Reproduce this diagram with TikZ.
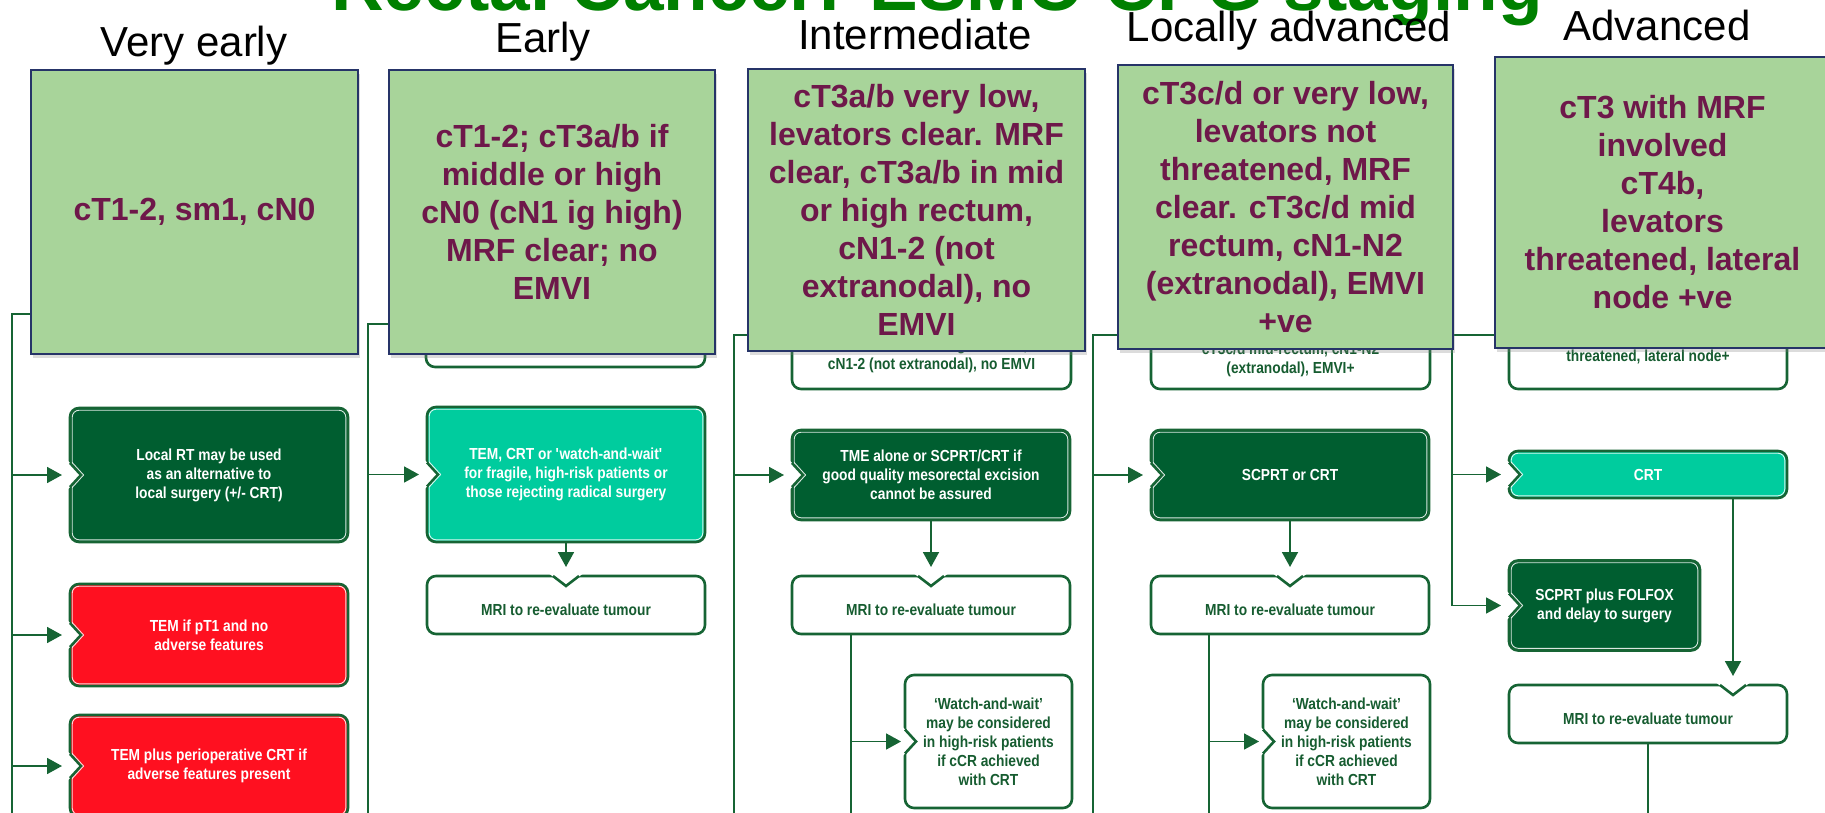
\documentclass[tikz,border=0pt]{standalone}
\usepackage{fontspec}
\setmainfont{Liberation Sans}
\newfontfamily\condf{Liberation Sans}[FakeStretch=0.86]
\usetikzlibrary{arrows.meta,shadows,calc}

\definecolor{stagefill}{RGB}{168,212,154}
\definecolor{stageedge}{RGB}{38,52,104}
\definecolor{stagetext}{RGB}{110,24,74}
\definecolor{titlegreen}{RGB}{0,128,0}
\definecolor{lineg}{RGB}{22,100,52}
\definecolor{darkg}{RGB}{0,94,48}
\definecolor{redbox}{RGB}{255,16,32}
\definecolor{tealbox}{RGB}{0,204,158}
\definecolor{wtext}{RGB}{22,92,48}

\pgfdeclarelayer{bg}
\pgfsetlayers{bg,main}

\tikzset{
  conn/.style={draw=lineg, line width=1.8pt},
  arr/.style={conn, -{Triangle[length=15pt,width=16pt]}},
  stage/.style={draw=stageedge, line width=1.6pt, fill=stagefill, text=stagetext,
    font=\bfseries\fontsize{32}{38}\selectfont, align=center, inner sep=0pt, outer sep=0pt,
    drop shadow={shadow xshift=2pt, shadow yshift=-4pt, opacity=0.28}},
  flow/.style={draw=lineg, line width=2.6pt, rounded corners=9pt, inner sep=0pt, outer sep=0pt,
    align=center, font=\condf\bfseries\fontsize{16}{19}\selectfont},
  darkbox/.style={flow, fill=darkg, text=white},
  redb/.style={flow, fill=redbox, text=white},
  tealb/.style={flow, fill=tealbox, text=white},
  whiteb/.style={flow, fill=white, text=wtext},
  wlabel/.style={align=center, text=wtext, inner sep=0pt, font=\condf\bfseries\fontsize{16}{19}\selectfont},
  hdr/.style={font=\fontsize{42}{46}\selectfont, anchor=base, inner sep=0pt},
}

% thin light line just inside the border of a filled box
\newcommand\innerline[1]{%
  \draw[white, opacity=0.85, line width=0.9pt, rounded corners=7pt]
    ([shift={(2.2,2.2)}]#1.north west) rectangle ([shift={(-2.2,-2.2)}]#1.south east);}
% chevron cut into the left side of a box at height #2
\newcommand\lnotch[2]{%
  \fill[white] ($(#1.west |- 0,#2)+(-2.5,-14.7)$) -- ($(#1.west |- 0,#2)+(11,0)$)
    -- ($(#1.west |- 0,#2)+(-2.5,14.7)$) -- cycle;
  \draw[lineg, line width=2.6pt, line join=miter] ($(#1.west |- 0,#2)+(0,-12)$)
    -- ($(#1.west |- 0,#2)+(11,0)$) -- ($(#1.west |- 0,#2)+(0,12)$);}
\newcommand\lnotchin[2]{%
  \draw[white, opacity=0.85, line width=0.9pt] ($(#1.west |- 0,#2)+(2.2,-12.5)$)
    -- ($(#1.west |- 0,#2)+(13.6,0)$) -- ($(#1.west |- 0,#2)+(2.2,12.5)$);}
% chevron cut into the top side of a box at abscissa #2
\newcommand\tnotch[2]{%
  \fill[white] ($(#1.north -| #2,0)+(-17.2,-2.5)$) -- ($(#1.north -| #2,0)+(0,10)$)
    -- ($(#1.north -| #2,0)+(17.2,-2.5)$) -- cycle;
  \draw[lineg, line width=2.6pt, line join=miter] ($(#1.north -| #2,0)+(-13,0)$)
    -- ($(#1.north -| #2,0)+(0,10)$) -- ($(#1.north -| #2,0)+(13,0)$);}

\begin{document}
\begin{tikzpicture}[x=1pt,y=-1pt]
\useasboundingbox (0,0) rectangle (1825,813);
\clip (0,0) rectangle (1825,813);

% title and column headings
\node[font=\bfseries\fontsize{73}{80}\selectfont, text=titlegreen, anchor=base, inner sep=0pt]
  (title) at (937,11) {Rectal Cancer: ESMO CPG staging};
\node[hdr] (hd1) at (194,57) {Very early};
\node[hdr] (hd2) at (543,53) {Early};
\node[hdr] (hd3) at (915,50) {Intermediate};
\node[hdr] (hd4) at (1289,42) {Locally advanced};
\node[hdr] (hd5) at (1657,41) {Advanced};

% stage boxes of the underlying flowchart
\node[whiteb, minimum width=279pt, minimum height=97pt] (h2) at (565.5,318.5) {};
\node[whiteb, minimum width=279pt, minimum height=97pt] (h3) at (931.5,340.5) {};
\node[wlabel] (h3t) at (931.5,355.5) {cT3a/b in mid or high rectum,\\cN1-2 (not extranodal), no EMVI};
\node[whiteb, minimum width=279pt, minimum height=97pt] (h4) at (1290.5,340.5) {};
\node[wlabel] (h4t) at (1290.5,359.5) {cT3c/d mid-rectum, cN1-N2\\(extranodal), EMVI+};
\node[whiteb, minimum width=278pt, minimum height=97pt] (h5) at (1648,340.5) {};
\node[wlabel] (h5t) at (1648,356.5) {threatened, lateral node+};

% very early
\node[darkbox, minimum width=278pt, minimum height=134pt] (l1) at (209,475)
  {Local RT may be used\\as an alternative to\\local surgery (+/- CRT)};
\node[redb, minimum width=278pt, minimum height=102pt] (r1) at (209,635)
  {TEM if pT1 and no\\adverse features};
\node[redb, minimum width=278pt, minimum height=102pt] (r2) at (209,766)
  {TEM plus perioperative CRT if\\adverse features present};
\innerline{l1}\innerline{r1}\innerline{r2}
\lnotch{l1}{475}\lnotchin{l1}{475}
\lnotch{r1}{635}\lnotchin{r1}{635}
\lnotch{r2}{766}\lnotchin{r2}{766}

% early
\node[tealb, minimum width=278pt, minimum height=135pt] (t2) at (566,474.5)
  {TEM, CRT or \textquotesingle watch-and-wait\textquotesingle\\for fragile, high-risk patients or\\those rejecting radical surgery};
\node[whiteb, minimum width=278pt, minimum height=58pt] (m2) at (566,605) {};
\node[wlabel] (m2t) at (566,610) {MRI to re-evaluate tumour};
\innerline{t2}
\lnotch{t2}{474.5}\lnotchin{t2}{474.5}
\tnotch{m2}{566}

% intermediate
\node[darkbox, minimum width=278pt, minimum height=90pt] (d3) at (931,475)
  {TME alone or SCPRT/CRT if\\good quality mesorectal excision\\cannot be assured};
\node[whiteb, minimum width=278pt, minimum height=58pt] (m3) at (931,605) {};
\node[wlabel] (m3t) at (931,610) {MRI to re-evaluate tumour};
\node[whiteb, minimum width=167pt, minimum height=133pt] (w3) at (988.5,741.5)
  {‘Watch-and-wait’\\may be considered\\in high-risk patients\\if cCR achieved\\with CRT};
\innerline{d3}
\lnotch{d3}{475}\lnotchin{d3}{475}
\tnotch{m3}{931}
\lnotch{w3}{741.5}

% locally advanced
\node[darkbox, minimum width=278pt, minimum height=90pt] (d4) at (1290,475) {SCPRT or CRT};
\node[whiteb, minimum width=278pt, minimum height=58pt] (m4) at (1290,605) {};
\node[wlabel] (m4t) at (1290,610) {MRI to re-evaluate tumour};
\node[whiteb, minimum width=167pt, minimum height=133pt] (w4) at (1346.5,741.5)
  {‘Watch-and-wait’\\may be considered\\in high-risk patients\\if cCR achieved\\with CRT};
\innerline{d4}
\lnotch{d4}{475}\lnotchin{d4}{475}
\tnotch{m4}{1290}
\lnotch{w4}{741.5}

% advanced
\node[tealb, minimum width=278pt, minimum height=47pt] (c5) at (1648,474.5) {CRT};
\node[darkbox, minimum width=191pt, minimum height=90pt] (f5) at (1604.5,605.5)
  {SCPRT plus FOLFOX\\and delay to surgery};
\node[whiteb, minimum width=278pt, minimum height=58pt] (m5) at (1648,714) {};
\node[wlabel] (m5t) at (1648,719) {MRI to re-evaluate tumour};
\innerline{c5}\innerline{f5}
\lnotch{c5}{474.5}\lnotchin{c5}{474.5}
\lnotch{f5}{605.5}\lnotchin{f5}{605.5}
\coordinate (n5) at (1733,676);
\tnotch{m5}{1733}

% staging criteria boxes laid over the chart
\node[stage, minimum width=327pt, minimum height=284pt] (s1) at (194.5,212) {cT1-2, sm1, cN0};
\node[stage, minimum width=326pt, minimum height=284pt] (s2) at (552,212)
  {cT1-2; cT3a/b if\\middle or high\\cN0 (cN1 ig high)\\MRF clear; no\\EMVI};
\node[stage, minimum width=337pt, minimum height=282pt] (s3) at (916.5,210)
  {cT3a/b very low,\\levators clear. MRF\\clear, cT3a/b in mid\\or high rectum,\\cN1-2 (not\\extranodal), no\\EMVI};
\node[stage, minimum width=335pt, minimum height=284pt] (s4) at (1285.5,207)
  {cT3c/d or very low,\\levators not\\threatened, MRF\\clear. cT3c/d mid\\rectum, cN1-N2\\(extranodal), EMVI\\+ve};
\node[stage, minimum width=335pt, minimum height=291pt] (s5) at (1662.5,202.5)
  {cT3 with MRF\\involved\\cT4b,\\levators\\threatened, lateral\\node +ve};

% connectors
\coordinate (v1) at (12,314);
\coordinate (v2) at (368,324);
\coordinate (v3) at (734,335);
\coordinate (v4) at (1093,335);
\coordinate (v5) at (1452,335);
\coordinate (bot) at (0,820);
\coordinate (b3) at (851,820);
\coordinate (b4) at (1209,820);
\begin{pgfonlayer}{bg}
  \draw[conn] (s1.west |- v1) -- (v1) -- (v1 |- bot);
  \draw[conn] (s2.west |- v2) -- (v2) -- (v2 |- bot);
  \draw[conn] (s3.west |- v3) -- (v3) -- (v3 |- bot);
  \draw[conn] (s4.west |- v4) -- (v4) -- (v4 |- bot);
  \draw[arr] (s5.west |- v5) -- (v5) -- (v5 |- f5.west) -- ([xshift=-8pt]f5.west);

  \draw[arr] (v1 |- l1.west) -- ([xshift=-8pt]l1.west);
  \draw[arr] (v1 |- r1.west) -- ([xshift=-8pt]r1.west);
  \draw[arr] (v1 |- r2.west) -- ([xshift=-8pt]r2.west);

  \draw[arr] (v2 |- t2.west) -- ([xshift=-8pt]t2.west);
  \draw[arr] (t2.south) -- ([yshift=9pt]m2.north);

  \draw[arr] (v3 |- d3.west) -- ([xshift=-8pt]d3.west);
  \draw[arr] (d3.south) -- ([yshift=9pt]m3.north);
  \draw[conn] (m3.south -| b3) -- (b3);
  \draw[arr] (b3 |- w3.west) -- ([xshift=-4pt]w3.west);

  \draw[arr] (v4 |- d4.west) -- ([xshift=-8pt]d4.west);
  \draw[arr] (d4.south) -- ([yshift=9pt]m4.north);
  \draw[conn] (m4.south -| b4) -- (b4);
  \draw[arr] (b4 |- w4.west) -- ([xshift=-4pt]w4.west);

  \draw[arr] (v5 |- c5.west) -- ([xshift=-8pt]c5.west);
  \draw[arr] (c5.south -| n5) -- (n5);
  \draw[conn] (m5.south) -- (m5.south |- bot);
\end{pgfonlayer}
\end{tikzpicture}
\end{document}
